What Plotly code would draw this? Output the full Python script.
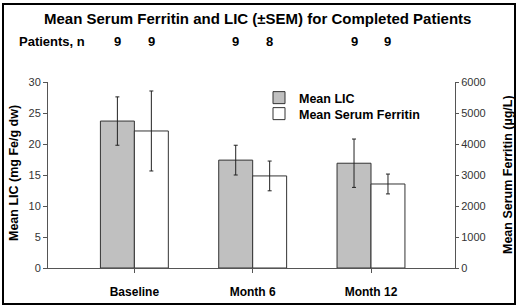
import plotly.graph_objects as go

categories = ["Baseline", "Month 6", "Month 12"]
lic_mean = [23.7, 17.4, 16.9]
lic_sem = [3.9, 2.4, 3.9]
ferritin_mean = [4420, 2970, 2710]
ferritin_sem = [1290, 480, 320]
patients_lic = ["9", "9", "9"]
patients_ferritin = ["9", "8", "9"]
left_ticks = [0, 5, 10, 15, 20, 25, 30]
right_ticks = [0, 1000, 2000, 3000, 4000, 5000, 6000]

xpos = list(range(len(categories)))
BW = 0.287
FONT = "Liberation Sans, Arial, sans-serif"

def px_x(p):
    return (p - 48) / 407

def px_y(p):
    return (268 - p) / 186

fig = go.Figure()
fig.add_trace(go.Bar(
    x=xpos, y=lic_mean, name="Mean LIC", width=BW, offset=-BW,
    marker=dict(color="#c0c0c0", line=dict(color="#333333", width=1)),
    error_y=dict(type="data", array=lic_sem, visible=True, color="#222222", thickness=1, width=2),
    yaxis="y", legend="legend"))
fig.add_trace(go.Bar(
    x=xpos, y=ferritin_mean, name="Mean Serum Ferritin", width=BW, offset=0,
    marker=dict(color="#ffffff", line=dict(color="#333333", width=1)),
    error_y=dict(type="data", array=ferritin_sem, visible=True, color="#222222", thickness=1, width=2),
    yaxis="y2", legend="legend2"))

annotations = []
annotations.append(dict(text="<b>Mean Serum Ferritin and LIC (±SEM) for Completed Patients</b>",
                        xref="paper", yref="paper", x=px_x(257), y=px_y(18), showarrow=False,
                        font=dict(size=15, family=FONT, color="#000"), xanchor="center", yanchor="middle"))
annotations.append(dict(text="<b>Patients, n</b>", xref="paper", yref="paper",
                        x=px_x(17), y=px_y(42), showarrow=False, xanchor="left", yanchor="middle",
                        font=dict(size=13, family=FONT, color="#000")))
for i in xpos:
    annotations.append(dict(text="<b>%s</b>" % patients_lic[i], xref="x", yref="paper",
                            x=i - BW/2, y=px_y(42), showarrow=False, yanchor="middle",
                            font=dict(size=13, family=FONT, color="#000")))
    annotations.append(dict(text="<b>%s</b>" % patients_ferritin[i], xref="x", yref="paper",
                            x=i + BW/2, y=px_y(42), showarrow=False, yanchor="middle",
                            font=dict(size=13, family=FONT, color="#000")))
annotations.append(dict(text="<b>Mean LIC (mg Fe/g dw)</b>", xref="paper", yref="paper",
                        x=px_x(14), y=px_y(173), textangle=-90, showarrow=False,
                        xanchor="center", yanchor="middle", font=dict(size=12.5, family=FONT, color="#000")))
annotations.append(dict(text="<b>Mean Serum Ferritin (µg/L)</b>", xref="paper", yref="paper",
                        x=px_x(508), y=px_y(175), textangle=-90, showarrow=False,
                        xanchor="center", yanchor="middle", font=dict(size=12.5, family=FONT, color="#000")))

legend_common = dict(xanchor="left", yanchor="middle", bgcolor="rgba(0,0,0,0)",
                     font=dict(size=12.5, family=FONT, color="#000", weight="bold"),
                     itemwidth=30)

fig.update_layout(
    width=520, height=308,
    margin=dict(l=48, r=65, t=82, b=40, autoexpand=False),
    paper_bgcolor="white", plot_bgcolor="white",
    font=dict(family=FONT, size=11, color="#222"),
    showlegend=True,
    legend=dict(x=px_x(259), y=px_y(98), **legend_common),
    legend2=dict(x=px_x(259), y=px_y(114), **legend_common),
    xaxis=dict(range=[-0.73, 2.71], tickvals=xpos, ticktext=["<b>%s</b>" % c for c in categories],
               showgrid=False, zeroline=False, showline=True, linecolor="#555", linewidth=1,
               ticks="outside", ticklen=4, tickcolor="#555", ticklabelstandoff=9,
               tickfont=dict(size=12, color="#000"), automargin=False),
    yaxis=dict(range=[0, 30], tickvals=left_ticks, showgrid=False, zeroline=False,
               showline=True, linecolor="#555", linewidth=1, ticks="outside", ticklen=4,
               tickcolor="#555", tickfont=dict(size=11, color="#333"), automargin=False),
    yaxis2=dict(range=[0, 6000], tickvals=right_ticks, overlaying="y", side="right",
                showgrid=False, zeroline=False, showline=True, linecolor="#555", linewidth=1,
                ticks="outside", ticklen=3, tickcolor="#555", tickfont=dict(size=11, color="#333"),
                automargin=False),
    annotations=annotations,
    shapes=[dict(type="rect", xref="paper", yref="paper",
                 x0=px_x(3), x1=px_x(515), y0=px_y(304), y1=px_y(4),
                 line=dict(color="#000", width=2), fillcolor="rgba(0,0,0,0)")],
)

fig.write_html("out.html", config={"displayModeBar": False},
               post_script="document.body.style.margin='0';document.body.style.padding='0';")
